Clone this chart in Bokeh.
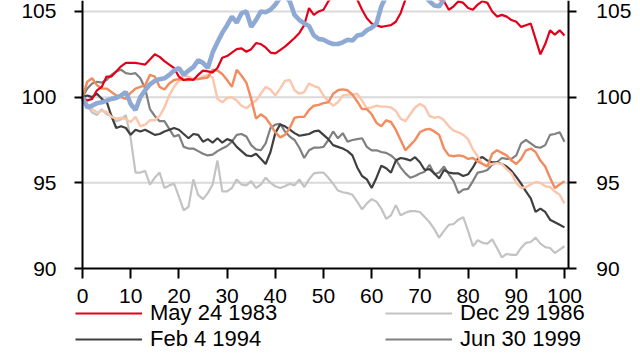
from bokeh.plotting import figure
from bokeh.models import Range1d, LinearAxis, Legend, LegendItem, FixedTicker
from bokeh.embed import file_html
from bokeh.resources import INLINE

days = list(range(0, 101))

may_24_1983 = [100.0, 99.8, 99.9, 100.4, 100.6, 101.2, 101.2, 101.5, 101.8, 102.0,
               102.0, 102.0, 101.95, 101.9, 102.2, 102.5, 102.35, 102.1, 101.9, 101.7,
               101.2, 101.0, 101.05, 101.0, 101.3, 101.55, 101.5, 101.45, 101.7, 102.3,
               102.4, 102.6, 102.8, 102.85, 102.65, 102.8, 103.15, 103.1, 102.9, 102.6,
               102.55, 102.75, 102.95, 103.2, 103.45, 103.75, 104.2, 105.2, 104.8, 105.0,
               105.1, 105.6, 105.9, 106.0, 105.8, 106.1, 105.9, 105.7, 105.1, 104.6,
               104.3, 104.2, 104.1, 104.15, 104.2, 104.4, 104.9, 105.7, 106.0, 105.8,
               106.1, 106.0, 105.8, 105.9, 105.7, 105.6, 105.1, 105.3, 105.6, 105.5,
               105.2, 105.1, 105.4, 105.6, 105.5, 105.0, 104.7, 104.8, 104.7, 104.5,
               104.4, 104.1, 104.2, 104.3, 103.4, 102.5, 103.1, 103.9, 103.65, 103.9,
               103.6]

dec_29_1986 = [100.0, 99.5, 99.1, 98.95, 99.3, 99.0, 98.9, 98.6, 98.7, 98.95,
               97.6, 95.6, 95.6, 95.7, 94.9, 95.3, 95.6, 94.7, 94.85, 94.95,
               94.2, 93.4, 93.6, 95.2, 94.3, 94.05, 94.4, 94.9, 96.3, 94.5,
               94.5, 94.7, 95.2, 94.9, 94.85, 95.1, 94.7, 94.9, 95.3, 95.0,
               94.8, 94.7, 94.8, 94.95, 94.85, 95.2, 94.75, 95.2, 95.55, 95.6,
               95.6, 95.3, 94.95, 94.55, 94.45, 94.4, 94.3, 93.9, 93.45, 93.8,
               94.05, 93.9, 93.5, 92.9, 93.1, 93.7, 93.1, 93.25, 93.35, 93.35,
               93.3, 93.0, 92.7, 92.3, 91.8, 92.2, 92.55, 92.6, 92.85, 93.0,
               92.2, 91.3, 91.65, 91.5, 91.45, 91.7, 91.2, 90.65, 90.85, 90.8,
               90.8, 91.2, 91.5, 91.55, 91.8, 91.45, 91.25, 91.2, 90.9, 91.1,
               91.3]

feb_4_1994 = [100.0, 100.1, 100.0, 100.2, 99.9, 99.75, 98.9, 98.2, 98.3, 98.2,
              97.8, 98.1, 98.0, 98.1, 97.95, 97.8, 97.85, 98.0, 98.1, 98.2,
              98.1, 97.85, 97.6, 97.85, 97.8, 97.4, 97.55, 97.35, 97.6, 97.35,
              97.55, 97.45, 97.1, 96.85, 96.6, 96.55, 96.7, 96.4, 96.1, 96.8,
              97.9, 98.4, 98.3, 98.1, 97.9, 97.75, 97.8, 97.85, 98.0, 98.05,
              97.8, 97.55, 97.2, 97.1, 97.0, 96.85, 96.6, 95.9, 95.4, 95.2,
              94.7, 95.3, 96.0, 95.85, 95.6, 96.3, 96.45, 96.4, 96.3, 96.5,
              96.2, 95.75, 95.8, 95.55, 95.25, 95.75, 95.6, 95.55, 95.55, 95.4,
              95.5, 95.9, 96.4, 96.5, 96.3, 96.2, 96.2, 96.1, 95.95, 95.7,
              95.35, 94.95, 94.5, 94.1, 93.3, 93.5, 93.3, 92.85, 92.7, 92.55,
              92.4]

jun_30_1999 = [100.0, 100.5, 100.8, 100.9, 100.85, 101.0, 101.3, 101.5, 101.6, 101.4,
               101.35, 101.4, 101.1, 100.5, 99.3, 98.9, 98.6, 98.6, 98.15, 97.7,
               97.8, 97.1, 97.0, 97.0, 96.85, 96.7, 96.6, 96.65, 96.85, 97.0,
               97.15, 97.4, 97.8, 97.85, 97.7, 97.2, 96.95, 96.9, 97.3, 98.2,
               98.4, 98.45, 98.0, 97.7, 97.5, 97.05, 96.45, 96.9, 97.05, 97.05,
               97.1, 97.5, 98.0, 97.6, 97.9, 97.4, 97.5, 97.55, 97.6, 97.1,
               96.9, 96.9, 96.8, 96.75, 96.6, 96.35, 95.9, 95.55, 95.3, 95.4,
               95.55, 95.65, 96.05, 95.5, 95.6, 95.95, 95.5, 95.1, 94.4, 94.6,
               94.65, 95.1, 95.6, 95.65, 95.75, 96.05, 96.2, 96.45, 96.4, 96.4,
               96.6, 97.3, 97.5, 97.3, 97.1, 97.05, 97.2, 97.8, 97.85, 97.95,
               97.4]

orange_series = [100.0, 100.9, 101.1, 100.7, 100.5, 100.5, 100.3, 100.1, 100.0, 99.9,
                 100.25, 100.5, 100.6, 100.7, 101.3, 101.2, 100.6, 100.45, 100.8, 101.0,
                 101.05, 101.0, 101.0, 101.05, 101.05, 101.1, 101.15, 101.6, 101.55, 101.35,
                 101.0, 100.6, 101.6, 101.25, 100.85, 99.9, 98.75, 99.0, 98.8, 98.4,
                 97.95, 97.65, 97.8, 98.2, 98.8, 98.85, 98.85, 99.25, 99.5, 99.55,
                 99.65, 99.7, 100.2, 100.4, 100.45, 100.4, 100.15, 99.75, 99.3, 99.3,
                 99.0, 98.5, 98.3, 98.65, 98.55, 98.1, 97.5, 96.9, 97.2, 97.5,
                 97.95, 98.1, 98.15, 98.0, 97.8, 97.0, 96.6, 96.55, 96.6, 96.55,
                 96.4, 96.45, 96.25, 96.1, 95.95, 96.7, 96.9, 96.75, 96.6, 96.3,
                 96.1, 96.4, 96.9, 97.0, 96.8, 96.3, 95.95, 95.3, 94.7, 94.9,
                 95.1]

peach_series = [100.0, 99.6, 99.3, 99.1, 99.2, 99.15, 98.85, 98.75, 98.8, 98.7,
                98.55, 98.85, 98.3, 98.4, 98.65, 98.65, 98.9, 99.4, 100.1, 100.6,
                100.95, 101.25, 101.2, 101.05, 101.05, 101.2, 101.3, 101.15, 99.9, 99.7,
                99.95, 100.0, 99.8, 99.5, 99.35, 99.6, 99.8, 100.2, 100.6, 100.45,
                100.1, 100.5, 100.95, 101.0, 100.4, 100.2, 100.3, 100.8, 100.65, 100.55,
                100.1, 99.75, 99.5, 99.7, 100.1, 100.15, 100.15, 100.2, 99.8, 99.35,
                99.4, 99.5, 99.45, 99.45, 99.4, 99.2, 98.75, 98.6, 99.0, 99.4,
                99.6, 99.45, 98.9, 98.8, 98.85, 98.65, 98.3, 98.05, 97.95, 97.8,
                97.55, 96.95, 96.55, 96.1, 96.0, 96.1, 96.15, 96.1, 95.8, 95.55,
                95.0, 94.7, 94.75, 94.9, 95.05, 95.0, 94.8, 94.75, 94.5, 94.3,
                93.8]

blue_series = [100.0, 99.4, 99.5, 99.65, 99.7, 99.8, 99.9, 99.95, 100.1, 100.3,
               99.6, 99.25, 100.0, 100.4, 100.75, 100.95, 101.05, 101.1, 101.3, 101.55,
               101.7, 101.3, 101.55, 101.75, 102.15, 102.0, 101.7, 102.6, 103.2, 103.75,
               104.2, 104.7, 104.35, 104.9, 105.0, 104.1, 104.5, 105.0, 104.95, 105.1,
               105.4, 105.8, 105.9, 105.6, 104.8, 104.5, 104.3, 104.15, 103.6, 103.4,
               103.35, 103.2, 103.1, 103.1, 103.2, 103.35, 103.3, 103.6, 103.65, 103.9,
               104.05, 104.3, 105.3, 105.9, 106.2, 106.3, 106.0, 106.4, 106.5, 106.3,
               106.2, 105.9, 105.6, 105.35, 105.3, 105.7, 106.1, 106.4, 106.6, 106.8,
               106.7, 107.0, 107.2, 107.0, 107.3, 107.5, 107.2, 107.4, 107.6, 107.3,
               107.5, 107.8, 107.6, 107.9, 108.1, 107.8, 108.0, 108.2, 107.9, 108.1,
               108.0]

legend_labels = ["May 24 1983", "Dec 29 1986", "Feb 4 1994", "Jun 30 1999"]
x_ticks = list(range(0, 101, 10))
y_ticks = [90, 95, 100, 105]
grid_levels = [95, 100, 105]
X_MIN, X_MAX = 0, 100.8
Y_MIN, Y_MAX = 90, 105.64

FONT = "Liberation Sans"
C_MAY, C_DEC, C_FEB, C_JUN = "#E2001A", "#C3C3C3", "#3F3F3F", "#808080"
C_ORANGE, C_PEACH, C_BLUE = "#F28B5E", "#FBC6AC", "#8EA9D3"

# The frame covers the whole canvas; the axes are pinned to the data limits so
# that the legend below the chart can be placed inside the frame.
p = figure(width=632, height=352, output_backend="svg", toolbar_location=None,
           x_range=Range1d(-17.01, 114.11), y_range=Range1d(85.10, Y_MAX),
           min_border_left=0, min_border_right=0, min_border_top=0,
           min_border_bottom=0)
p.outline_line_color = None
p.background_fill_color = "white"
p.border_fill_color = "white"
p.xgrid.visible = False
p.ygrid.visible = False

# horizontal gridlines limited to the plotting area
p.segment(x0=[X_MIN] * len(grid_levels), x1=[X_MAX] * len(grid_levels),
          y0=grid_levels, y1=grid_levels, line_color="#D9D9D9", line_width=2)

right_axis = LinearAxis()
p.add_layout(right_axis, "right")

for ax in [p.xaxis[0], p.yaxis[0], right_axis]:
    ax.axis_line_color = "black"
    ax.axis_line_width = 2
    ax.major_tick_line_color = "black"
    ax.major_tick_line_width = 2
    ax.major_tick_in = 0
    ax.minor_tick_out = 0
    ax.minor_tick_in = 0
    ax.major_label_text_font = FONT
    ax.major_label_text_font_size = "21px"
    ax.major_label_text_color = "black"

p.xaxis[0].ticker = FixedTicker(ticks=x_ticks)
p.xaxis[0].fixed_location = Y_MIN
p.xaxis[0].bounds = (X_MIN, X_MAX)
p.xaxis[0].major_tick_out = 10
p.xaxis[0].major_label_standoff = 10
for ax in [p.yaxis[0], right_axis]:
    ax.ticker = FixedTicker(ticks=y_ticks)
    ax.bounds = (Y_MIN, Y_MAX)
    ax.major_tick_out = 8
p.yaxis[0].fixed_location = X_MIN
right_axis.fixed_location = X_MAX
p.yaxis[0].major_label_standoff = 18
right_axis.major_label_standoff = 20

r_dec = p.line(days, dec_29_1986, line_color=C_DEC, line_width=2.2)
r_jun = p.line(days, jun_30_1999, line_color=C_JUN, line_width=2.2)
r_feb = p.line(days, feb_4_1994, line_color=C_FEB, line_width=2.2)
r_peach = p.line(days, peach_series, line_color=C_PEACH, line_width=2.4)
r_orange = p.line(days, orange_series, line_color=C_ORANGE, line_width=2.4)
r_may = p.line(days, may_24_1983, line_color=C_MAY, line_width=2.2)
r_blue = p.line(days, blue_series, line_color=C_BLUE, line_width=4.6)

legend = Legend(items=[
    LegendItem(label=legend_labels[0], renderers=[r_may]),
    LegendItem(label=legend_labels[1], renderers=[r_dec]),
    LegendItem(label=legend_labels[2], renderers=[r_feb]),
    LegendItem(label=legend_labels[3], renderers=[r_jun]),
], orientation="horizontal", ncols=2)
legend.location = (75, 0)
legend.margin = 0
legend.padding = 0
legend.spacing = 0
legend.glyph_width = 67
legend.glyph_height = 20
legend.label_height = 20
legend.label_width = 235
legend.label_standoff = 8
legend.label_text_font = FONT
legend.label_text_font_size = "22px"
legend.label_text_color = "black"
legend.background_fill_alpha = 0
legend.border_line_alpha = 0
p.add_layout(legend, "center")

open("out.html", "w").write(file_html(p, INLINE))
